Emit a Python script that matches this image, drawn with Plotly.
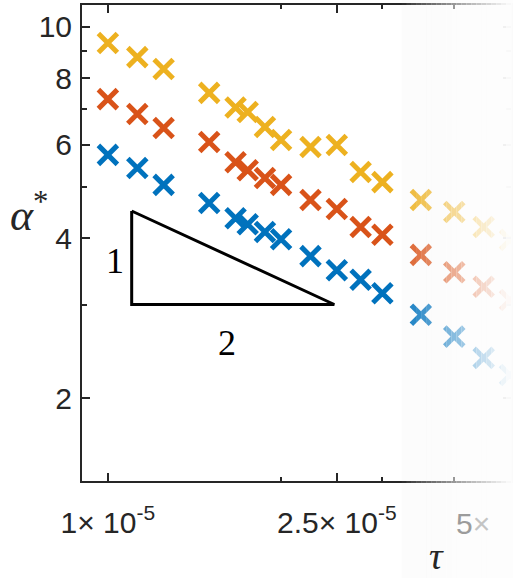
import numpy as np
import plotly.graph_objects as go

# ---- data ----
tau = [1.0e-5, 1.125e-5, 1.25e-5, 1.5e-5, 1.667e-5, 1.75e-5, 1.875e-5, 2.0e-5,
       2.25e-5, 2.5e-5, 2.75e-5, 3.0e-5, 3.5e-5, 4.0e-5, 4.5e-5, 5.0e-5]
alpha_blue = [5.74, 5.42, 5.04, 4.66, 4.36, 4.25, 4.11, 3.98,
              3.70, 3.48, 3.34, 3.15, 2.87, 2.61, 2.38, 2.21]
alpha_orange = [7.31, 6.85, 6.45, 6.07, 5.56, 5.37, 5.19, 5.04,
                4.72, 4.54, 4.20, 4.06, 3.72, 3.45, 3.24, 3.06]
alpha_yellow = [9.32, 8.77, 8.33, 7.51, 7.05, 6.91, 6.48, 6.12,
                5.94, 5.99, 5.33, 5.10, 4.72, 4.48, 4.20, 3.97]

x_tickvals = [1e-5, 2.5e-5, 5e-5]
x_ticktext = ["1× 10<sup>-5</sup>", "2.5× 10<sup>-5</sup>", ""]
x_edge_label = "5×"          # label of the 5e-5 tick, cut off by the picture edge
x_minor = [2e-5, 3e-5, 4e-5]
y_tickvals = [2, 4, 6, 8, 10]
y_ticktext = ["2", "4", "6", "8", "10"]
y_minor = [3, 5, 7, 9]

# slope triangle (slope -1/2)
tri_x = [1.1e-5, 1.1e-5, 2.475e-5, 1.1e-5]
tri_y = [4.5, 3.0, 3.0, 4.5]

colors = {"blue": "#0072BD", "orange": "#D95319", "yellow": "#EDB120"}

W, H = 513, 578
ML, MR, MT, MB = 82, 0, 5, 97
PW, PH = W - ML - MR, H - MT - MB
xr = [-5 - 26 / 578, -5 - 26 / 578 + PW / 578]
yr = [np.log10(2) - 83 / 531, np.log10(2) - 83 / 531 + PH / 531]

def px_x(p):
    return (p - ML) / PW

def px_y(p):
    return (H - MB - p) / PH

fig = go.Figure()
for name, vals in [("blue", alpha_blue), ("orange", alpha_orange), ("yellow", alpha_yellow)]:
    fig.add_trace(go.Scatter(
        x=tau, y=vals, mode="markers",
        marker=dict(symbol="x-thin", size=19, color=colors[name],
                    line=dict(width=5, color=colors[name])),
        showlegend=False, hoverinfo="skip"))

fig.add_trace(go.Scatter(x=tri_x, y=tri_y, mode="lines",
                         line=dict(color="black", width=3),
                         showlegend=False, hoverinfo="skip"))

axis_col = "#262626"
fig.update_xaxes(type="log", range=xr, showgrid=False, zeroline=False,
                 showline=True, linecolor=axis_col, linewidth=2, mirror="ticks",
                 ticks="inside", ticklen=8, tickwidth=2, tickcolor=axis_col,
                 tickmode="array", tickvals=x_tickvals, ticktext=x_ticktext,
                 tickfont=dict(family="Liberation Sans", size=30, color=axis_col),
                 minor=dict(tickmode="array", tickvals=x_minor, ticks="inside",
                            ticklen=4, tickwidth=2, tickcolor=axis_col),
                 ticklabelstandoff=14)
fig.update_yaxes(type="log", range=yr, showgrid=False, zeroline=False,
                 showline=True, linecolor=axis_col, linewidth=2, mirror="ticks",
                 ticks="inside", ticklen=8, tickwidth=2, tickcolor=axis_col,
                 tickmode="array", tickvals=y_tickvals, ticktext=y_ticktext,
                 tickfont=dict(family="Liberation Sans", size=30, color=axis_col),
                 minor=dict(tickmode="array", tickvals=y_minor, ticks="inside",
                            ticklen=5, tickwidth=2, tickcolor=axis_col),
                 ticklabelstandoff=2)

shapes = []
# faint grey background on the faded strip
shapes.append(dict(type="rect", xref="paper", yref="paper", layer="below",
                   x0=px_x(403), x1=px_x(W + 2), y0=px_y(H + 2), y1=px_y(-2),
                   fillcolor="#FCFCFC", line=dict(width=0)))
# stepped white fade over the right side
step = 5
for p in range(403, W + step, step):
    t = min(1.0, (p + step / 2 - 403) / 110)
    op = min(0.99, t ** 0.85)
    shapes.append(dict(type="rect", xref="paper", yref="paper", layer="above",
                       x0=px_x(p), x1=px_x(p + step + 0.5), y0=px_y(H + 2), y1=px_y(-2),
                       fillcolor="#FDFDFD", opacity=op, line=dict(width=0)))

def ann(x, y, text, size, color, family="Liberation Serif", xanchor="center"):
    return dict(xref="paper", yref="paper", x=px_x(x), y=px_y(y),
                xanchor=xanchor, yanchor="middle", text=text, showarrow=False,
                font=dict(family=family, size=size, color=color))

annotations = [
    ann(29, 212, "<i>α</i><sup>*</sup>", 44, axis_col),
    ann(438, 556, "<i>τ</i>", 38, axis_col),
    ann(115, 261, "1", 36, "black"),
    ann(228, 343, "2", 36, "black"),
    ann(456, 523, '<span style="color:#9c9c9c">' + x_edge_label[0] + '</span>'
        '<span style="color:#c4c4c4">' + x_edge_label[1:] + '</span>',
        30, "#9c9c9c", family="Liberation Sans", xanchor="left"),
]

fig.update_layout(width=W, height=H,
                  margin=dict(l=ML, r=MR, t=MT, b=MB, pad=0),
                  paper_bgcolor="white", plot_bgcolor="white",
                  shapes=shapes, annotations=annotations)

fig.write_html("out.html", config={"displayModeBar": False},
               post_script="document.body.style.margin='0px';")
